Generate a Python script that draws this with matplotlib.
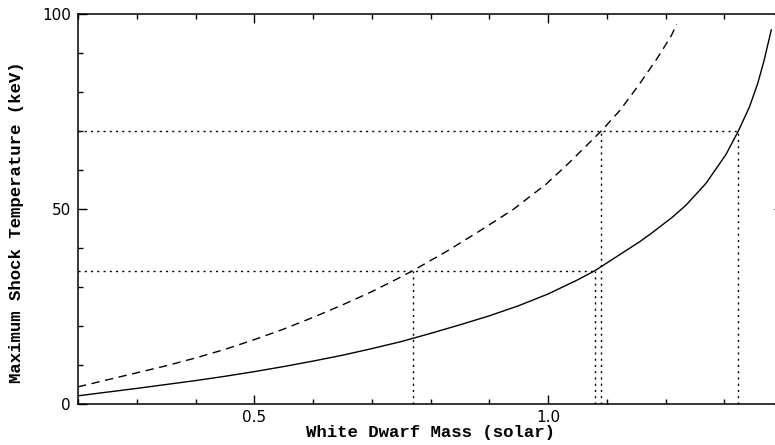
import matplotlib
matplotlib.use("Agg")
import matplotlib.pyplot as plt
from matplotlib.ticker import MultipleLocator

# White dwarf mass (solar) vs maximum shock temperature (keV)
mass_solid = [0.20, 0.25, 0.30, 0.35, 0.40, 0.45, 0.50, 0.55, 0.60, 0.65,
              0.70, 0.75, 0.80, 0.85, 0.90, 0.95, 1.00, 1.05, 1.08, 1.156,
              1.178, 1.2125, 1.235, 1.269, 1.303, 1.324, 1.343, 1.357,
              1.368, 1.380]
temp_solid = [2.1, 3.05, 4.0, 5.0, 6.0, 7.1, 8.3, 9.6, 11.0, 12.5,
              14.2, 16.0, 18.1, 20.3, 22.6, 25.2, 28.2, 31.8, 34.2, 41.6,
              44.0, 48.0, 51.0, 56.6, 64.0, 70.0, 76.2, 82.2,
              88.2, 95.9]

mass_dashed = [0.20, 0.25, 0.30, 0.35, 0.40, 0.45, 0.50, 0.55, 0.60, 0.65,
               0.70, 0.75, 0.770, 0.827, 0.884, 0.940, 0.997, 1.037, 1.0906,
               1.122, 1.156, 1.187, 1.2097, 1.2192]
temp_dashed = [4.4, 6.2, 8.0, 9.8, 11.8, 14.0, 16.5, 19.2, 22.2, 25.4,
               28.8, 32.6, 34.2, 39.1, 44.4, 49.8, 56.4, 62.0, 70.0,
               75.2, 82.1, 88.9, 94.4, 97.4]

# reference temperatures and where each curve reaches them
temp_levels = [34.2, 70.0]
mass_at_level_dashed = [0.770, 1.0906]
mass_at_level_solid = [1.080, 1.324]

fig = plt.figure(figsize=(7.75, 4.45), dpi=100)
# right spine sits just outside the picture, as in the original crop
ax = fig.add_axes([78 / 775, 41 / 445, 705 / 775, 390 / 445])

ax.plot(mass_solid, temp_solid, color="black", lw=1.0)
ax.plot(mass_dashed, temp_dashed, color="black", lw=1.0, dashes=(6, 4))

dot = dict(color="black", lw=1.0, dashes=(1.5, 3))
for t, m_sol in zip(temp_levels, mass_at_level_solid):
    ax.plot([0.2, m_sol], [t, t], **dot)
for t, m_d, m_s in zip(temp_levels, mass_at_level_dashed, mass_at_level_solid):
    ax.plot([m_d, m_d], [0, t], **dot)
    ax.plot([m_s, m_s], [0, t], **dot)

ax.set_xlim(0.2, 1.4)
ax.set_ylim(0, 100)
ax.xaxis.set_major_locator(MultipleLocator(0.5))
ax.xaxis.set_minor_locator(MultipleLocator(0.1))
ax.yaxis.set_major_locator(MultipleLocator(50))
ax.yaxis.set_minor_locator(MultipleLocator(10))
ax.xaxis.set_major_formatter(plt.FuncFormatter(lambda v, p: f"{v:.1f}"))
ax.yaxis.set_major_formatter(plt.FuncFormatter(lambda v, p: f"{v:.0f}"))

ax.tick_params(which="both", direction="in", top=True, right=True, width=1.0)
ax.tick_params(which="major", length=6.5)
ax.tick_params(which="minor", length=3.6)
ax.tick_params(axis="x", pad=4)
ax.tick_params(axis="y", pad=5)
for lab in ax.get_xticklabels() + ax.get_yticklabels():
    lab.set_fontfamily("DejaVu Sans")
    lab.set_fontsize(11)
for sp in ax.spines.values():
    sp.set_linewidth(1.1)

fig.text(431 / 775, 1 - 433 / 445, "White Dwarf Mass (solar)",
         family="Liberation Mono", weight="bold", fontsize=12.5,
         ha="center", va="center")
fig.text(17 / 775, 1 - 222 / 445, "Maximum Shock Temperature (keV)",
         family="Liberation Mono", weight="bold", fontsize=12.5,
         ha="center", va="center", rotation=90)

fig.savefig("out.png", dpi=100)
